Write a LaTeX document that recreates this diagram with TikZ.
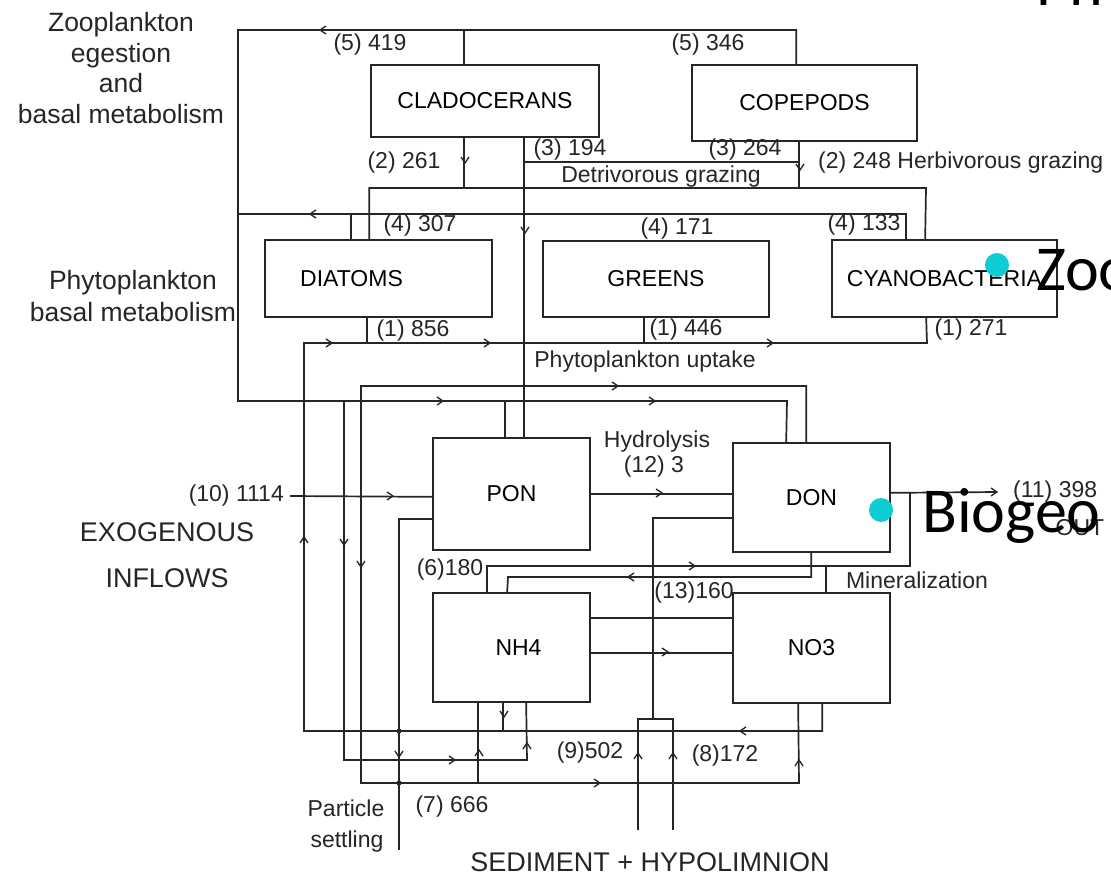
\documentclass[tikz,border=0pt]{standalone}
\usepackage{fontspec}
\setmainfont{Liberation Sans}
\newfontfamily\slidefont{Carlito}
\definecolor{dotcyan}{RGB}{14,204,214}
\tikzset{
  ln/.style={line width=1.7pt, draw=black!85},
  box/.style={draw=black!85, line width=1.7pt, inner sep=0pt, font=\fontsize{23}{27}\selectfont},
  lab/.style={inner sep=0pt, font=\fontsize{23}{27}\selectfont, text=black!85},
  big/.style={inner sep=0pt, font=\fontsize{27}{31}\selectfont, text=black!85, align=center},
  slide/.style={inner sep=0pt, font=\slidefont\fontsize{64}{70}\selectfont},
  arrR/.pic={\draw[line width=1.3pt, black!85] (-6,-4) -- (0,0) -- (-6,4);},
  arrL/.pic={\draw[line width=1.3pt, black!85] (6,-4) -- (0,0) -- (6,4);},
  arrD/.pic={\draw[line width=1.3pt, black!85] (-4,-6) -- (0,0) -- (4,-6);},
  arrU/.pic={\draw[line width=1.3pt, black!85] (-4,6) -- (0,0) -- (4,6);},
}
\begin{document}
\begin{tikzpicture}[x=1pt,y=-1pt]
\useasboundingbox (0,0) rectangle (1111,875);
\fill[white] (0,0) rectangle (1111,875);
\clip (0,0) rectangle (1111,875);

% boxes
\node[box, minimum width=228pt, minimum height=72pt] (clad) at (485,101) {CLADOCERANS};
\node[box, minimum width=225pt, minimum height=76pt] (cope) at (804.5,103) {COPEPODS};
\node[box, minimum width=227pt, minimum height=77pt] (diat) at (378.5,278.5) {DIATOMS\hspace*{54pt}};
\node[box, minimum width=226pt, minimum height=76pt] (green) at (656,279) {GREENS};
\node[box, minimum width=225pt, minimum height=77pt] (cyano) at (944.5,278.5) {CYANOBACTERIA};
\node[box, minimum width=157pt, minimum height=112pt] (pon) at (511.5,494) {PON};
\node[box, minimum width=157pt, minimum height=109pt] (don) at (811.5,497.5) {DON};
\node[box, minimum width=157pt, minimum height=109pt] (nh4) at (511.5,647.5) {\hspace*{14pt}NH4};
\node[box, minimum width=157pt, minimum height=110pt] (no3) at (811.5,648) {NO3};

% anchor coordinates
\coordinate (cladN) at ([xshift=94pt]clad.north west);
\coordinate (cladS1) at ([xshift=94pt]clad.south west);
\coordinate (cladS2) at ([xshift=154pt]clad.south west);
\coordinate (copeN) at ([xshift=105pt]cope.north west);
\coordinate (copeS) at ([xshift=108pt]cope.south west);
\coordinate (diatN1) at ([xshift=87pt]diat.north west);
\coordinate (diatN2) at ([xshift=105pt]diat.north west);
\coordinate (diatS) at ([xshift=103pt]diat.south west);
\coordinate (greenS) at ([xshift=102pt]green.south west);
\coordinate (cyanoN1) at ([xshift=75pt]cyano.north west);
\coordinate (cyanoN2) at ([xshift=94pt]cyano.north west);
\coordinate (cyanoS) at ([xshift=95pt]cyano.south west);
\coordinate (ponN1) at ([xshift=73pt]pon.north west);
\coordinate (ponN2) at ([xshift=92pt]pon.north west);
\coordinate (ponW1) at ([yshift=32pt]pon.south west);
\coordinate (ponW2) at ([yshift=54pt]pon.south west);
\coordinate (ponE) at ([yshift=57pt]pon.south east);
\coordinate (donN1) at ([xshift=54pt]don.north west);
\coordinate (donN2) at ([xshift=74pt]don.north west);
\coordinate (donS) at ([xshift=79pt]don.south west);
\coordinate (donW2) at ([yshift=35pt]don.south west);
\coordinate (donE) at ([yshift=60pt]don.south east);
\coordinate (nh4N1) at ([xshift=55pt]nh4.north west);
\coordinate (nh4N2) at ([xshift=75pt]nh4.north west);
\coordinate (nh4S1) at ([xshift=46pt]nh4.south west);
\coordinate (nh4S2) at ([xshift=71pt]nh4.south west);
\coordinate (nh4S3) at ([xshift=94pt]nh4.south west);
\coordinate (nh4E1) at ([yshift=85pt]nh4.south east);
\coordinate (nh4E2) at ([yshift=50pt]nh4.south east);
\coordinate (no3N) at ([xshift=94pt]no3.north west);
\coordinate (no3S1) at ([xshift=66pt]no3.south west);
\coordinate (no3S2) at ([xshift=90pt]no3.south west);
\coordinate (inflow) at (290,496);
\coordinate (outflow) at (997,492);
\coordinate (settle) at (399,850);
\coordinate (sedA) at (638,830);
\coordinate (sedB) at (673,830);

% zooplankton egestion loop
\draw[ln] (copeN) |- (238,30) |- (787,401) -- (donN1);
\draw[ln] (cladN) -- (cladN |- 0,30);
\draw[ln] (ponN1) -- (ponN1 |- 0,401);
\pic at (320,30) {arrL};
\pic at (443,401) {arrR};
\pic at (655,401) {arrR};

% phytoplankton basal metabolism
\draw[ln] (cyanoN1) |- (238,214);
\draw[ln] (diatN1) -- (diatN1 |- 0,214);
\pic at (310,214) {arrL};

% herbivorous grazing
\draw[ln] (diatN2) |- (926,188) -- (cyanoN2);
\draw[ln] (cladS1) -- (cladS1 |- 0,188);
\draw[ln] (copeS) -- (copeS |- 0,188);
\pic at (465,163) {arrD};
\pic at (800,170) {arrD};

% detrivorous grazing
\draw[ln] (cladS2) -- (ponN2);
\draw[ln] (cladS2 |- 0,162) -- (copeS |- 0,162);
\pic at (525,233) {arrD};

% phytoplankton uptake
\draw[ln] (no3S2) |- (304,731) |- (927,343) -- (cyanoS);
\draw[ln] (diatS) -- (diatS |- 0,343);
\draw[ln] (greenS) -- (greenS |- 0,343);
\draw[ln] (nh4S2) -- (nh4S2 |- 0,731);
\pic at (332,343) {arrR};
\pic at (490,343) {arrR};
\pic at (773,343) {arrR};
\pic at (304,537) {arrU};
\pic at (740,731) {arrL};
\pic at (504,717) {arrD};

% zooplankton line down to NH4
\draw[ln] (344,401) |- (527,760) -- (nh4S3);
\pic at (344,545) {arrD};
\pic at (455,760) {arrR};
\pic at (527,743) {arrU};

% DON loop to NO3
\draw[ln] (donN2) |- (361,386) |- (799,783) -- (no3S1);
\draw[ln] (nh4S1) -- (nh4S1 |- 0,783);
\pic at (618,386) {arrR};
\pic at (361,567) {arrD};
\pic at (600,783) {arrR};
\pic at (799,760) {arrU};
\pic at (479,750) {arrU};

% particle settling
\draw[ln] (ponW1) -| (settle);
\pic at (399,757) {arrD};
\fill[black!85] (399,731) circle[radius=2.5pt];
\fill[black!85] (399,783) circle[radius=2.5pt];

% hydrolysis, inflow, outflow
\draw[ln] (ponE) -- (ponE -| don.west);
\pic at (662,493) {arrR};
\draw[ln] (inflow) -- (ponW2);
\pic at (393,496) {arrR};
\draw[ln] (donE) -- (outflow);
\pic at (outflow) {arrR};

% DON - NH4 - NO3
\draw[ln] (nh4N1) |- (910,566) -- (910,492);
\draw[ln] (no3N |- 0,566) -- (no3N);
\pic at (695,566) {arrR};
\draw[ln] (donS) |- (508,577) -- (nh4N2);
\pic at (628,577) {arrL};
\draw[ln] (nh4E1) -- (nh4E1 -| no3.west);
\draw[ln] (nh4E2) -- (nh4E2 -| no3.west);
\pic at (668,652) {arrR};

% sediment exchange
\draw[ln] (donW2) -| (653,719);
\draw[ln] (sedA) |- (673,719) -- (sedB);
\pic at (638,753) {arrU};
\pic at (673,753) {arrU};

% labels
\node[lab] at (370,45) {(5) 419};
\node[lab] at (708,45) {(5) 346};
\node[lab] at (404,163) {(2) 261};
\node[lab] at (570,150) {(3) 194};
\node[lab] at (745,150) {(3) 264};
\node[lab, anchor=west] at (818,163) {(2) 248 Herbivorous grazing};
\node[lab] at (661,177) {Detrivorous grazing};
\node[lab] at (420,226) {(4) 307};
\node[lab] at (677,229) {(4) 171};
\node[lab] at (864,225) {(4) 133};
\node[lab] at (413,331) {(1) 856};
\node[lab] at (686,330) {(1) 446};
\node[lab] at (971,330) {(1) 271};
\node[lab] at (645,362) {Phytoplankton uptake};
\node[lab] at (657,442) {Hydrolysis};
\node[lab] at (654,467) {(12) 3};
\node[lab, anchor=east] at (284,496) {(10) 1114};
\node[lab, anchor=west] at (1013,492) {(11) 398};
\node[lab] at (1080,528) {OUT};
\node[lab] at (450,570) {(6)180};
\node[lab] at (694,593) {(13)160};
\node[lab] at (917,580) {Mineralization};
\node[lab] at (590,753) {(9)502};
\node[lab] at (725,756) {(8)172};
\node[lab] at (452,807) {(7) 666};
\node[lab] at (346,808) {Particle};
\node[lab] at (347,842) {settling};
\node[big] at (650,862) {SEDIMENT + HYPOLIMNION};
\node[big] at (167,532) {EXOGENOUS};
\node[big] at (167,578) {INFLOWS};
\node[big, font=\fontsize{26.5}{30.5}\selectfont] at (121,68) {Zooplankton\\egestion\\and\\basal metabolism};
\node[big, font=\fontsize{26.5}{32}\selectfont] at (133,296) {Phytoplankton\\basal metabolism};

% slide overlay
\fill[dotcyan] (997,265) circle[radius=12pt];
\fill[dotcyan] (881,510) circle[radius=12pt];
\node[slide, anchor=base west] at (1036,290) {Zoo};
\node[slide, anchor=base west] at (922,532) {Biogeo};
\node[slide, anchor=base west] at (1036,6) {Ph};
\end{tikzpicture}
\end{document}
